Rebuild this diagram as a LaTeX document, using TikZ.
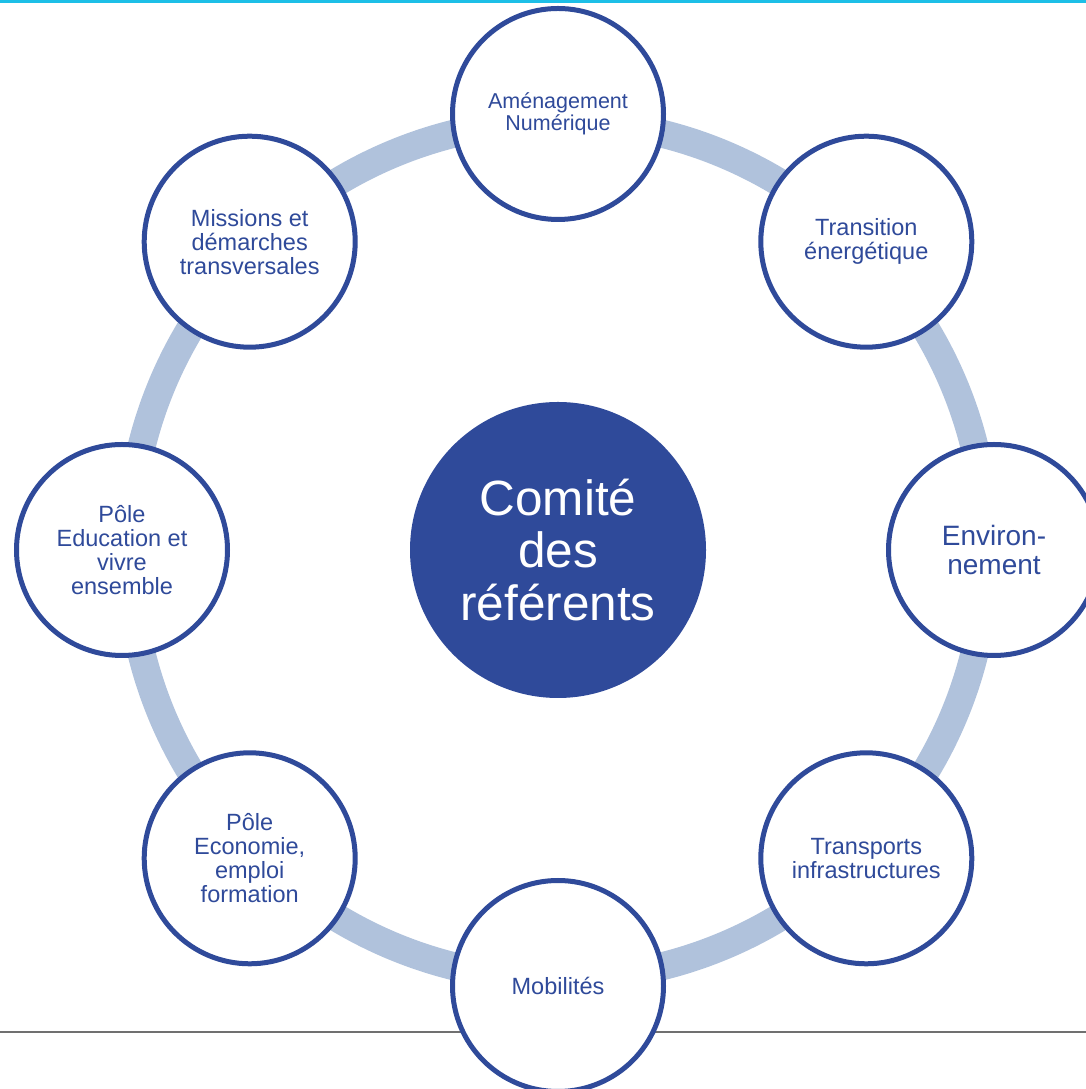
\documentclass[tikz,border=0pt]{standalone}
\usepackage{fontspec}
\setmainfont{Liberation Sans}
\usepackage{tikz}
\usetikzlibrary{positioning,calc}
\definecolor{refblue}{HTML}{2F4A9A}
\definecolor{ringblue}{HTML}{B0C2DC}
\definecolor{topcyan}{HTML}{1DBFE7}
\definecolor{rulegray}{HTML}{707070}

\begin{document}
\begin{tikzpicture}[x=1pt, y=1pt]
	\tikzstyle{satellite}=[circle,draw=refblue,line width=5pt,fill=white,text=refblue,minimum size=211pt,inner sep=0pt,align=center,font=\fontsize{23.5}{24}\selectfont]
	\tikzstyle{centre}=[circle,fill=refblue,text=white,minimum size=296pt,inner sep=0pt,align=center,font=\fontsize{49.5}{52.5}\selectfont]
	\useasboundingbox (0,0) rectangle (1086,1089);
	\clip (0,0) rectangle (1086,1089);
	% frame lines
	\fill[topcyan] (0,1086) rectangle (1086,1089);
	\draw[rulegray,line width=2pt] (0,57) -- (1086,57);
	% centre and ring
	\node[centre]    (CR) at (558,539)   {Comité\\des\\référents};
	\draw[ringblue,line width=28pt] (CR.center) circle (429);
	% satellites
	\node[satellite,font=\fontsize{21.5}{22.5}\selectfont] (AN) at ($(CR)+(90:436)$)   {Aménagement\\Numérique};
	\node[satellite] (TE) at ($(CR)+(45:436)$)   {Transition\\énergétique};
	\node[satellite,font=\fontsize{28}{29}\selectfont]     (EN) at ($(CR)+(0:436)$)    {Environ-\\nement};
	\node[satellite] (TI) at ($(CR)+(-45:436)$)  {Transports\\infrastructures};
	\node[satellite] (MO) at ($(CR)+(-90:436)$)  {Mobilités};
	\node[satellite] (PE) at ($(CR)+(-135:436)$) {Pôle\\Economie,\\emploi\\formation};
	\node[satellite] (PV) at ($(CR)+(180:436)$)  {Pôle\\Education et\\vivre\\ensemble};
	\node[satellite] (MD) at ($(CR)+(135:436)$)  {Missions et\\démarches\\transversales};
\end{tikzpicture}
\end{document}
